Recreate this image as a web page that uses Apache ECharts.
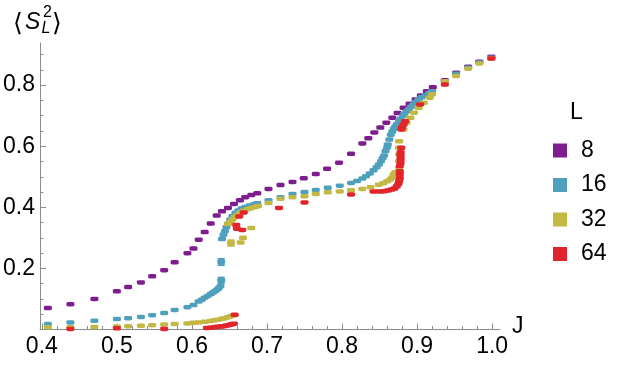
<!DOCTYPE html>
<html><head><meta charset="utf-8">
<script src="https://cdn.jsdelivr.net/npm/echarts/dist/echarts.min.js"></script>
<style>html,body{margin:0;padding:0;background:#fff}#c{width:617px;height:365px}</style>
</head><body><div id="c"></div><script>
// ---- data ----
const seriesNames = ['8', '16', '32', '64'];
const J8 = [0.408,0.438,0.470,0.500,0.515,0.532,0.547,0.563,0.577,0.594,0.602,0.609,0.617,0.625,0.633,0.640,0.648,0.656,0.664,0.671,0.679,0.687,0.702,0.718,0.734,0.749,0.765,0.780,0.796,0.812,0.827,0.835,0.843,0.851,0.859,0.867,0.874,0.882,0.890,0.898,0.905,0.913,0.921,0.937,0.952,0.968,0.983,0.999];
const S8 = [0.070,0.083,0.100,0.125,0.139,0.154,0.174,0.194,0.220,0.250,0.265,0.294,0.319,0.347,0.373,0.387,0.398,0.411,0.423,0.433,0.440,0.446,0.460,0.473,0.483,0.495,0.509,0.526,0.546,0.575,0.609,0.626,0.645,0.661,0.677,0.693,0.709,0.726,0.739,0.753,0.766,0.780,0.793,0.816,0.841,0.860,0.877,0.893];

const J16 = [0.408,0.438,0.470,0.500,0.515,0.532,0.547,0.563,0.577,0.594,0.602,0.609,0.613,0.617,0.621,0.625,0.628,0.631,0.634,0.636,0.638,0.639,0.639,0.640,0.642,0.644,0.646,0.648,0.651,0.654,0.658,0.662,0.666,0.671,0.677,0.683,0.687,0.702,0.718,0.734,0.750,0.765,0.781,0.797,0.812,0.820,0.827,0.832,0.837,0.842,0.846,0.849,0.852,0.854,0.856,0.858,0.860,0.861,0.863,0.865,0.867,0.869,0.871,0.873,0.876,0.878,0.881,0.883,0.886,0.889,0.892,0.895,0.898,0.902,0.906,0.911,0.916,0.920,0.937,0.952,0.968,0.983,0.999];
const S16 = [0.018,0.023,0.029,0.034,0.037,0.041,0.047,0.054,0.064,0.073,0.080,0.092,0.097,0.104,0.110,0.116,0.121,0.126,0.131,0.136,0.142,0.161,0.221,0.296,0.310,0.322,0.335,0.346,0.360,0.372,0.382,0.390,0.396,0.401,0.406,0.410,0.413,0.423,0.433,0.444,0.450,0.457,0.464,0.471,0.480,0.486,0.494,0.502,0.511,0.521,0.531,0.540,0.551,0.561,0.570,0.584,0.596,0.606,0.622,0.638,0.648,0.657,0.665,0.672,0.682,0.690,0.699,0.706,0.714,0.721,0.729,0.737,0.745,0.753,0.760,0.767,0.774,0.780,0.812,0.837,0.857,0.874,0.890];

const J32 = [0.408,0.438,0.470,0.500,0.515,0.532,0.547,0.563,0.577,0.594,0.602,0.609,0.617,0.625,0.630,0.635,0.640,0.644,0.648,0.652,0.655,0.652,0.665,0.668,0.679,0.648,0.651,0.654,0.657,0.661,0.665,0.669,0.674,0.679,0.684,0.688,0.702,0.718,0.734,0.750,0.765,0.781,0.797,0.812,0.827,0.838,0.849,0.855,0.860,0.864,0.867,0.869,0.871,0.876,0.876,0.876,0.876,0.876,0.882,0.886,0.891,0.896,0.902,0.909,0.917,0.920,0.937,0.952,0.968,0.983,0.999];
const S32 = [0.007,0.007,0.008,0.010,0.011,0.012,0.014,0.016,0.018,0.020,0.022,0.023,0.025,0.028,0.030,0.032,0.035,0.037,0.040,0.043,0.046,0.283,0.285,0.300,0.332,0.345,0.352,0.360,0.368,0.376,0.383,0.389,0.394,0.398,0.401,0.404,0.414,0.428,0.433,0.436,0.444,0.449,0.452,0.456,0.460,0.466,0.474,0.479,0.485,0.491,0.498,0.508,0.515,0.529,0.551,0.573,0.595,0.616,0.655,0.677,0.693,0.710,0.726,0.742,0.759,0.770,0.813,0.830,0.854,0.871,0.888];

const J64 = [0.438,0.500,0.563,0.620,0.625,0.630,0.634,0.638,0.642,0.646,0.650,0.653,0.656,0.657,0.659,0.660,0.667,0.663,0.669,0.716,0.750,0.812,0.842,0.850,0.856,0.861,0.866,0.870,0.873,0.875,0.876,0.877,0.877,0.877,0.877,0.878,0.878,0.878,0.878,0.878,0.879,0.879,0.880,0.882,0.884,0.904,0.937,0.999];
const S64 = [0.002,0.004,0.002,0.005,0.006,0.007,0.009,0.010,0.011,0.013,0.015,0.017,0.019,0.048,0.342,0.330,0.326,0.370,0.383,0.398,0.416,0.442,0.452,0.452,0.453,0.455,0.458,0.462,0.469,0.477,0.485,0.495,0.507,0.518,0.535,0.545,0.555,0.562,0.572,0.580,0.595,0.655,0.662,0.671,0.682,0.737,0.802,0.887];

// error bars (visible ones)
const errJ = [0.639, 0.639, 0.652];
const errS = [0.161, 0.221, 0.283];
const errE = [0.009, 0.010, 0.009];
const errSeries = [1, 1, 2];

const xMajor = [0.4, 0.5, 0.6, 0.7, 0.8, 0.9, 1.0];
const yMajor = [0.2, 0.4, 0.6, 0.8];

// ---- styles ----
const colors = ['#7e1e8e', '#4fa0bd', '#c3b843', '#e1252a'];
const FONT = 'Liberation Sans, Arial, sans-serif';
const axisGray = '#8c8c8c';

const xMinor = [];
for (let i = 20; i <= 50; i++) { const v = i / 50; if (i % 5 !== 0) xMinor.push(+v.toFixed(2)); }
const yMinor = [];
for (let i = 1; i <= 18; i++) { if (i % 4 !== 0) yMinor.push(+(i * 0.05).toFixed(2)); }

const Js = [J8, J16, J32, J64];
const Ss = [S8, S16, S32, S64];

const series = seriesNames.map((n, k) => ({
  name: n, type: 'scatter', symbol: 'roundRect', symbolSize: [8, 4.5],
  itemStyle: { color: colors[k], opacity: 1 },
  data: Js[k].map((j, i) => [j, Ss[k][i]]),
  z: 2 + k, animation: false
}));

series.push({
  name: 'err', type: 'custom', animation: false, z: 10,
  data: errJ.map((j, i) => [j, errS[i], errE[i], errSeries[i]]),
  renderItem: function (params, api) {
    const j = api.value(0), s = api.value(1), e = api.value(2), k = api.value(3);
    const top = api.coord([j, s + e]), bot = api.coord([j, s - e]);
    const c = colors[k];
    const st = { stroke: c, lineWidth: 2 };
    return { type: 'group', children: [
      { type: 'line', shape: { x1: top[0], y1: top[1], x2: bot[0], y2: bot[1] }, style: st },
      { type: 'line', shape: { x1: top[0] - 3.5, y1: top[1], x2: top[0] + 3.5, y2: top[1] }, style: st },
      { type: 'line', shape: { x1: bot[0] - 3.5, y1: bot[1], x2: bot[0] + 3.5, y2: bot[1] }, style: st },
      { type: 'rect', shape: { x: top[0] - 2.5, y: (top[1] + bot[1]) / 2 - 2, width: 5, height: 4 }, style: { fill: c } }
    ]};
  }
});

const chart = echarts.init(document.getElementById('c'), null, { renderer: 'canvas' });
chart.setOption({
  animation: false,
  backgroundColor: '#fff',
  grid: { left: 39, right: 117, top: 43, bottom: 35.5, containLabel: false },
  xAxis: [{
    type: 'value', min: 0.3975, max: 1.0105, position: 'bottom',
    axisLine: { show: true, onZero: false, lineStyle: { color: axisGray, width: 1 } },
    axisTick: { show: true, inside: true, length: 6, customValues: xMajor, lineStyle: { color: axisGray } },
    axisLabel: { show: true, customValues: xMajor, formatter: v => v.toFixed(1), color: '#000', fontSize: 23, fontFamily: FONT, margin: 6 },
    splitLine: { show: false }
  }, {
    type: 'value', min: 0.3975, max: 1.0105, position: 'bottom', gridIndex: 0,
    axisLine: { show: false },
    axisTick: { show: true, inside: true, length: 3.5, customValues: xMinor, lineStyle: { color: axisGray } },
    axisLabel: { show: false }, splitLine: { show: false }
  }],
  yAxis: [{
    type: 'value', min: 0, max: 0.938, position: 'left',
    axisLine: { show: true, onZero: false, lineStyle: { color: axisGray, width: 1 } },
    axisTick: { show: true, inside: true, length: 6, customValues: yMajor, lineStyle: { color: axisGray } },
    axisLabel: { show: true, customValues: yMajor, formatter: v => v.toFixed(1), color: '#000', fontSize: 23, fontFamily: FONT, margin: 5 },
    splitLine: { show: false }
  }, {
    type: 'value', min: 0, max: 0.938, position: 'left', gridIndex: 0,
    axisLine: { show: false },
    axisTick: { show: true, inside: true, length: 3.5, customValues: yMinor, lineStyle: { color: axisGray } },
    axisLabel: { show: false }, splitLine: { show: false }
  }],
  legend: {
    data: seriesNames, orient: 'vertical', left: 548, top: 134,
    icon: 'rect', itemWidth: 14, itemHeight: 14, itemGap: 11.5,
    textStyle: { fontSize: 23, fontFamily: FONT, color: '#000', lineHeight: 22, padding: [0, 0, 0, 9] },
    selectedMode: false
  },
  graphic: [
    { type: 'text', x: 13, y: 24, style: { text: '⟨', fontSize: 25, fontFamily: 'DejaVu Sans', fill: '#000', verticalAlign: 'middle' } },
    { type: 'text', x: 25, y: 23, style: { text: 'S', fontSize: 23, fontStyle: 'italic', fontFamily: FONT, fill: '#000', verticalAlign: 'middle' } },
    { type: 'text', x: 43, y: 13, style: { text: '2', fontSize: 16, fontFamily: FONT, fill: '#000', verticalAlign: 'middle' } },
    { type: 'text', x: 41.5, y: 28.5, style: { text: 'L', fontSize: 16, fontStyle: 'italic', fontFamily: FONT, fill: '#000', verticalAlign: 'middle' } },
    { type: 'text', x: 52, y: 24, style: { text: '⟩', fontSize: 25, fontFamily: 'DejaVu Sans', fill: '#000', verticalAlign: 'middle' } },
    { type: 'text', x: 512, y: 327, style: { text: 'J', fontSize: 23, fontFamily: FONT, fill: '#000', verticalAlign: 'middle' } },
    { type: 'text', x: 570, y: 113, style: { text: 'L', fontSize: 23, fontFamily: FONT, fill: '#000', verticalAlign: 'middle' } }
  ],
  series: series
});
</script></body></html>
